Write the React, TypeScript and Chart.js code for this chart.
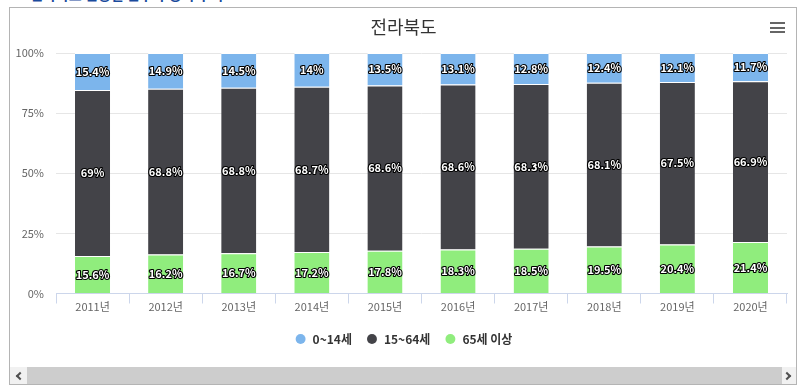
import { useEffect, useRef } from "react";
import { Chart, registerables } from "chart.js";

Chart.register(...registerables);

const FONT = '"Noto Sans CJK KR", "Noto Sans", sans-serif';

const chartTitle = "전라북도";
const categories = ["2011년", "2012년", "2013년", "2014년", "2015년", "2016년", "2017년", "2018년", "2019년", "2020년"];
const seriesNames = ["0~14세", "15~64세", "65세 이상"];
const age0to14 = [15.4, 14.9, 14.5, 14, 13.5, 13.1, 12.8, 12.4, 12.1, 11.7];
const age15to64 = [69, 68.8, 68.8, 68.7, 68.6, 68.6, 68.3, 68.1, 67.5, 66.9];
const age65plus = [15.6, 16.2, 16.7, 17.2, 17.8, 18.3, 18.5, 19.5, 20.4, 21.4];
const seriesColors = ["#7cb5ec", "#434348", "#90ed7d"];
const yTickStep = 25;

const LEGEND_PAD = 14;

const dataLabelPlugin = {
  id: "stackLabels",
  afterDatasetsDraw(chart: any) {
    const ctx = chart.ctx;
    ctx.save();
    ctx.font = `bold 11px ${FONT}`;
    ctx.textAlign = "center";
    ctx.textBaseline = "middle";
    ctx.lineJoin = "round";
    ctx.lineWidth = 2.2;
    ctx.strokeStyle = "#000000";
    ctx.fillStyle = "#ffffff";
    chart.data.datasets.forEach((ds: any, di: number) => {
      const meta = chart.getDatasetMeta(di);
      if (meta.hidden) return;
      meta.data.forEach((el: any, i: number) => {
        const p = el.getProps(["x", "y", "base"], true);
        const cy = (p.y + p.base) / 2;
        const text = `${ds.rawValues[i]}%`;
        ctx.strokeText(text, p.x, cy);
        ctx.fillText(text, p.x, cy);
      });
    });
    ctx.restore();
  },
};

export default function App() {
  const ref = useRef<HTMLCanvasElement | null>(null);

  useEffect(() => {
    if (!ref.current) return;
    Chart.defaults.font.family = FONT;
    const totals = categories.map((_, i) => age0to14[i] + age15to64[i] + age65plus[i]);
    const norm = (arr: number[]) => arr.map((v, i) => (v / totals[i]) * 100);
    // stacking bottom -> top: 65+, 15~64, 0~14 (legend reversed)
    const stackOrder = [
      { name: seriesNames[2], values: age65plus, color: seriesColors[2] },
      { name: seriesNames[1], values: age15to64, color: seriesColors[1] },
      { name: seriesNames[0], values: age0to14, color: seriesColors[0] },
    ];
    const chart = new Chart(ref.current, {
      type: "bar",
      data: {
        labels: categories,
        datasets: stackOrder.map((s) => ({
          label: s.name,
          data: norm(s.values),
          rawValues: s.values,
          backgroundColor: s.color,
          borderColor: "#ffffff",
          borderWidth: { top: 1, right: 0, bottom: 0, left: 0 },
          borderSkipped: false,
          categoryPercentage: 0.6,
          barPercentage: 0.8,
        })) as any,
      },
      options: {
        animation: false,
        responsive: false,
        devicePixelRatio: 1,
        layout: { padding: { left: 20, right: 23, top: 0, bottom: 12 } },
        plugins: {
          title: {
            display: true,
            text: chartTitle,
            color: "#333333",
            font: { size: 18, weight: "normal", family: FONT },
            padding: { top: 16.2, bottom: 15.2 },
          },
          legend: {
            position: "bottom",
            reverse: true,
            labels: {
              usePointStyle: true,
              pointStyle: "circle",
              boxWidth: 12,
              boxHeight: 7,
              padding: LEGEND_PAD,
              color: "#333333",
              font: { size: 12, weight: "bold", family: FONT },
              generateLabels: (c: any) =>
                (Chart.defaults.plugins.legend.labels as any)
                  .generateLabels(c)
                  .map((l: any) => ({ ...l, lineWidth: 0, strokeStyle: l.fillStyle })),
            },
          },
          tooltip: { enabled: false },
        },
        scales: {
          x: {
            stacked: true,
            grid: { offset: true, drawOnChartArea: false, drawTicks: true, tickLength: 10, color: "#ccd6eb" },
            border: { display: true, color: "#ccd6eb", z: 1 },
            ticks: { color: "#666666", font: { size: 11, family: FONT }, padding: -3.6, maxRotation: 0, autoSkip: false },
            afterFit: (s: any) => {
              s.height = 39.5 - LEGEND_PAD;
            },
          },
          y: {
            stacked: true,
            min: 0,
            max: 100,
            ticks: {
              stepSize: yTickStep,
              callback: (v: any) => `${v}%`,
              color: "#666666",
              font: { size: 11, family: FONT },
              padding: 12,
            },
            grid: { color: "#e6e6e6", drawTicks: false },
            border: { display: false },
            afterFit: (s: any) => {
              s.width = 36;
              s._computeLabelArea = () => undefined;
            },
          },
        },
      } as any,
      plugins: [dataLabelPlugin],
    });
    return () => chart.destroy();
  }, []);

  return (
    <div>
      <div
        style={{
          position: "absolute",
          left: 30,
          top: -16,
          font: `bold 14px ${FONT}`,
          color: "#1a4a9c",
          whiteSpace: "nowrap",
        }}
      >
        전라북도 연령별 인구 구성비 추이
      </div>
      <div
        style={{
          position: "absolute",
          left: 9,
          top: 7,
          width: 788,
          height: 378,
          boxSizing: "border-box",
          border: "1px solid #b4b4b4",
          background: "#ffffff",
        }}
      />
      <div style={{ position: "absolute", left: 10, top: 367, width: 786, height: 17, background: "#cdcdcd" }} />
      <div style={{ position: "absolute", left: 10, top: 367, width: 17, height: 17, background: "#f1f1f1" }}>
        <div
          style={{
            position: "absolute",
            left: 7,
            top: 6,
            width: 4,
            height: 4,
            borderLeft: "2px solid #505050",
            borderBottom: "2px solid #505050",
            transform: "rotate(45deg)",
          }}
        />
      </div>
      <div style={{ position: "absolute", left: 782, top: 367, width: 14, height: 17, background: "#f1f1f1" }}>
        <div
          style={{
            position: "absolute",
            left: 2,
            top: 6,
            width: 4,
            height: 4,
            borderRight: "2px solid #505050",
            borderTop: "2px solid #505050",
            transform: "rotate(45deg)",
          }}
        />
      </div>
      <canvas
        ref={ref}
        width={810}
        height={367}
        style={{ position: "absolute", left: 0, top: 0, width: 810, height: 367 }}
      />
      <div style={{ position: "absolute", left: 770, top: 22, width: 15, height: 2, background: "#666666" }} />
      <div style={{ position: "absolute", left: 770, top: 27, width: 15, height: 2, background: "#666666" }} />
      <div style={{ position: "absolute", left: 770, top: 31, width: 15, height: 2, background: "#666666" }} />
    </div>
  );
}
